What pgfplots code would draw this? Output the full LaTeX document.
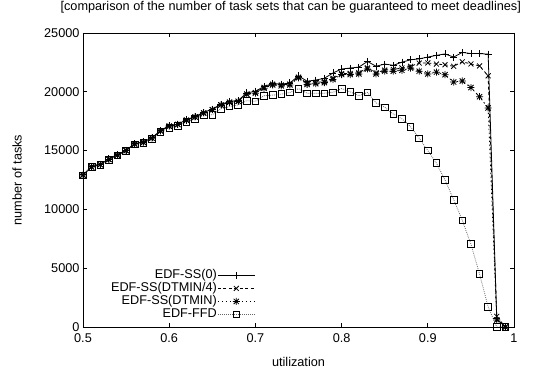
\documentclass[border=0pt]{standalone}
\usepackage{fontspec}
\setmainfont{Liberation Sans}
\usepackage{pgfplots}
\usepackage{pgfplotstable}
\pgfplotsset{compat=1.18}
\pgfdeclareplotmark{gpstar}{%
  \pgfpathmoveto{\pgfqpoint{-\pgfplotmarksize}{0pt}}%
  \pgfpathlineto{\pgfqpoint{\pgfplotmarksize}{0pt}}%
  \pgfpathmoveto{\pgfqpoint{0pt}{-\pgfplotmarksize}}%
  \pgfpathlineto{\pgfqpoint{0pt}{\pgfplotmarksize}}%
  \pgfpathmoveto{\pgfqpoint{-.75\pgfplotmarksize}{-.75\pgfplotmarksize}}%
  \pgfpathlineto{\pgfqpoint{.75\pgfplotmarksize}{.75\pgfplotmarksize}}%
  \pgfpathmoveto{\pgfqpoint{-.75\pgfplotmarksize}{.75\pgfplotmarksize}}%
  \pgfpathlineto{\pgfqpoint{.75\pgfplotmarksize}{-.75\pgfplotmarksize}}%
  \pgfusepathqstroke}
\pgfplotstableread{
u s0 s4 sd ffd
0.50 12950 12920 12920 12900
0.51 13650 13610 13610 13600
0.52 13850 13810 13810 13800
0.53 14290 14250 14250 14230
0.54 14650 14610 14610 14580
0.55 15040 15000 15000 14980
0.56 15600 15560 15560 15520
0.57 15740 15700 15700 15660
0.58 16100 16060 16060 16000
0.59 16710 16670 16670 16600
0.60 17120 17080 17080 16950
0.61 17260 17220 17220 17080
0.62 17620 17580 17580 17430
0.63 17900 17860 17860 17700
0.64 18250 18200 18200 18000
0.65 18530 18480 18480 18050
0.66 18940 18880 18880 18550
0.67 19180 19110 19110 18750
0.68 19270 19190 19190 18880
0.69 19900 19800 19800 19250
0.70 20050 19940 19880 19190
0.71 20450 20380 20300 19670
0.72 20700 20650 20580 19720
0.73 20650 20580 20500 19800
0.74 20750 20660 20580 19940
0.75 21350 21250 21190 20270
0.76 20900 20720 20630 19880
0.77 21000 20780 20690 19880
0.78 21150 20880 20780 19880
0.79 21600 21150 21050 19960
0.80 21940 21550 21470 20270
0.81 22020 21560 21470 20000
0.82 22100 21620 21520 19670
0.83 22580 22030 21940 19940
0.84 22170 21620 21520 19050
0.85 22360 21850 21750 18690
0.86 22250 21900 21750 18100
0.87 22520 22030 21830 17700
0.88 22720 22170 22020 17030
0.89 22800 22440 21750 16050
0.90 22950 22450 21520 15000
0.91 23100 22360 21670 13930
0.92 23220 22300 21450 12500
0.93 22950 22170 20830 10830
0.94 23350 22550 20920 9080
0.95 23250 22370 20360 7050
0.96 23250 22200 19580 4520
0.97 23200 21360 18630 1720
0.98 700 900 600 0
0.99 0 0 0 0
}\data
\begin{document}
\begin{tikzpicture}
\begin{axis}[
  scale only axis, width=431pt, height=294pt,
  xmin=0.5, xmax=1, ymin=0, ymax=25000,
  xtick={0.5,0.6,0.7,0.8,0.9,1},
  ytick={0,5000,10000,15000,20000,25000},
  tick align=inside, tick pos=both,
  major tick length=4pt,
  axis line style={line width=0.8pt},
  every tick/.style={black, line width=0.8pt},
  scaled y ticks=false,
  /pgf/number format/1000 sep={},
  /pgf/number format/assume math mode=true,
  tick label style={font=\fontsize{12.7}{15}\selectfont},
  x tick label style={yshift=-3pt},
  label style={font=\fontsize{12.7}{15}\selectfont},
  xlabel={utilization}, ylabel={number of tasks},
  xlabel style={at={(axis description cs:0.5,-0.119)}, anchor=center},
  ylabel style={at={(axis description cs:-0.153,0.5)}, anchor=center},
  title={[comparison of the number of task sets that can be guaranteed to meet deadlines]},
  title style={font=\fontsize{12.7}{15}\selectfont, at={(axis description cs:0.482,1.068)}, anchor=center},
  legend plot pos=right,
  legend cell align=right,
  legend image code/.code={\draw[mark repeat=2,mark phase=2,#1] plot coordinates {(0pt,0pt) (18.5pt,0pt) (37pt,0pt)};},
  legend style={at={(axis description cs:0.40,0.02)}, anchor=south east, draw=none, fill=none,
    font=\fontsize{12.7}{15}\selectfont, inner sep=0pt, row sep=0pt,
    nodes={inner sep=0.5pt, text height=9pt, text depth=3pt},
    /tikz/every even column/.append style={column sep=4pt}},
  every axis plot/.append style={line width=0.8pt, mark size=3.5pt, mark options={solid}},
]
\addplot[black, mark=+] table[x=u, y=s0] {\data};
\addlegendentry{EDF-SS(0)}
\addplot[black, dash pattern=on 3pt off 2.5pt, mark=x] table[x=u, y=s4] {\data};
\addlegendentry{EDF-SS(DTMIN/4)}
\addplot[black, dash pattern=on 1.5pt off 2.5pt, mark=gpstar] table[x=u, y=sd] {\data};
\addlegendentry{EDF-SS(DTMIN)}
\addplot[black!60, dash pattern=on 0.8pt off 1.2pt, mark=square, mark options={solid, black, line width=0.8pt, mark size=3.3pt}] table[x=u, y=ffd] {\data};
\addlegendentry{EDF-FFD}
\coordinate (sw) at (rel axis cs:0,0);
\end{axis}
\pgfresetboundingbox
\path[use as bounding box] (sw) ++(-83pt,-47pt) rectangle ++(537pt,374pt);
\end{tikzpicture}
\end{document}
